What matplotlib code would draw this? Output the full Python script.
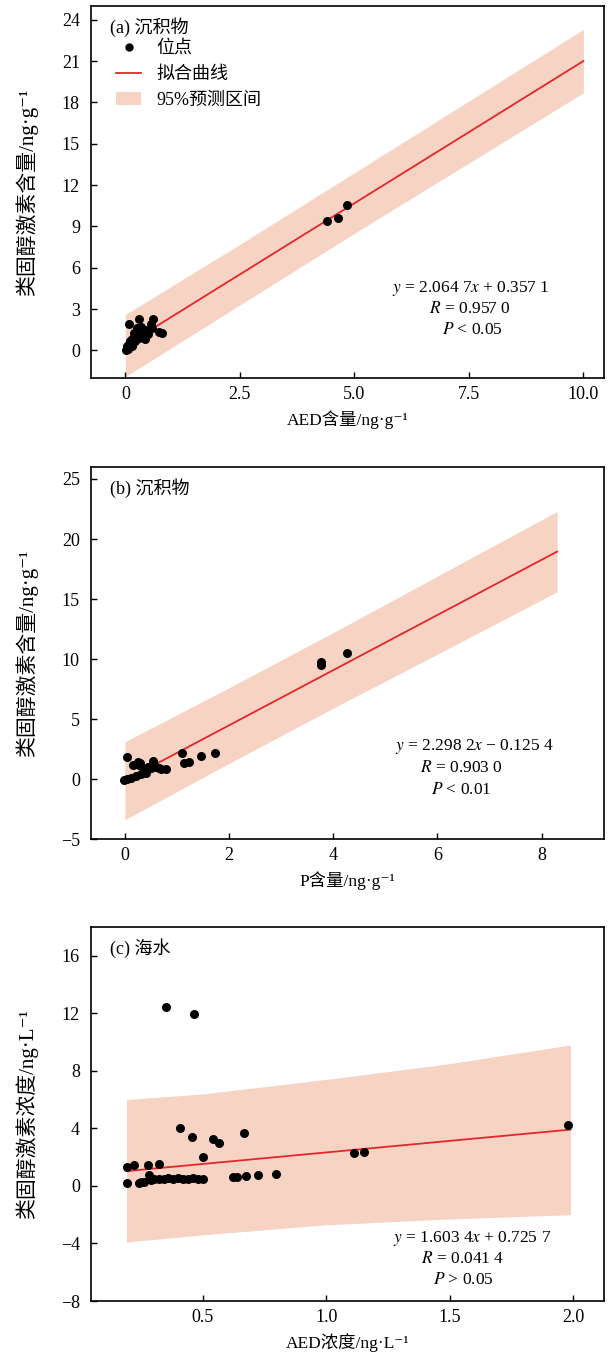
import matplotlib
matplotlib.use('Agg')
import matplotlib.pyplot as plt
from matplotlib.patches import Patch
from matplotlib.lines import Line2D
import numpy as np

FAM = ['Liberation Serif', 'Noto Sans CJK SC', 'DejaVu Sans']
plt.rcParams['font.family'] = FAM
plt.rcParams['mathtext.fontset'] = 'stix'
plt.rcParams['axes.unicode_minus'] = True

# ---------------- data ----------------
# (a) sediment: AED content vs steroid content
a_x = [0.02, 0.05, 0.04, 0.08, 0.10, 0.12, 0.15, 0.20, 0.22, 0.25, 0.28, 0.30, 0.33, 0.35,
       0.38, 0.40, 0.42, 0.45, 0.18, 0.09, 0.29, 0.60, 0.55, 0.58, 0.74, 0.80, 0.50, 0.15,
       0.25, 0.35, 4.41, 4.65, 4.84]
a_y = [0.00, 0.10, 0.30, 0.50, 0.70, 0.60, 0.80, 0.90, 0.70, 1.00, 1.10, 0.90, 1.20, 1.00,
       1.30, 1.10, 0.80, 1.50, 1.30, 1.95, 2.30, 2.30, 1.90, 1.60, 1.35, 1.25, 1.20, 0.30,
       1.60, 1.70, 9.42, 9.64, 10.58]
a_slope, a_intercept = 2.0647, 0.3571
a_band_x = [0.0, 2.5, 5.0, 7.5, 10.0]
a_band_hi = [2.6, 7.7, 12.9, 18.1, 23.3]
a_band_lo = [-1.9, 3.3, 8.5, 13.6, 18.7]

# (b) sediment: P content vs steroid content
b_x = [0.04, 0.15, 0.25, 0.29, 0.27, 0.37, 0.50, 0.55, 0.56, 0.69, 0.79, -0.01, 0.05, 0.115,
       0.21, 0.31, 0.40, 0.45, 0.35, 0.60, 0.65, 1.09, 1.14, 1.23, 1.46, 1.73, 3.76, 3.76, 4.26]
b_y = [1.86, 1.14, 1.40, 1.30, 1.20, 0.67, 0.94, 1.50, 1.20, 0.86, 0.86, -0.10, 0.00, 0.06,
       0.25, 0.39, 0.53, 1.00, 0.90, 1.00, 0.90, 2.20, 1.36, 1.44, 1.92, 2.19, 9.50, 9.75, 10.50]
b_slope, b_intercept = 2.2982, -0.1254
b_band_x = [0.0, 2.0, 4.0, 6.0, 8.3]
b_band_hi = [3.1, 7.6, 12.2, 16.9, 22.3]
b_band_lo = [-3.4, 1.3, 5.9, 10.4, 15.6]

# (c) seawater: AED concentration vs steroid concentration
c_x = [0.19, 0.22, 0.278, 0.32, 0.19, 0.24, 0.25, 0.28, 0.30, 0.32, 0.34, 0.36, 0.38, 0.40,
       0.42, 0.44, 0.46, 0.48, 0.50, 0.407, 0.454, 0.50, 0.542, 0.566, 0.667, 0.623, 0.636,
       0.674, 0.724, 0.796, 1.112, 1.153, 0.35, 0.463, 1.98, 0.26, 0.29]
c_y = [1.34, 1.44, 1.46, 1.55, 0.19, 0.23, 0.25, 0.76, 0.50, 0.50, 0.50, 0.52, 0.50, 0.55,
       0.50, 0.50, 0.52, 0.50, 0.50, 4.00, 3.43, 2.03, 3.24, 2.96, 3.70, 0.65, 0.65,
       0.69, 0.76, 0.83, 2.27, 2.34, 12.43, 11.94, 4.24, 0.30, 0.40]
c_slope, c_intercept = 1.6034, 0.7257
c_band_x = [0.19, 0.5, 1.0, 1.5, 1.99]
c_band_hi = [6.0, 6.4, 7.4, 8.5, 9.8]
c_band_lo = [-3.9, -3.4, -2.7, -2.3, -2.0]

panels = [
    dict(x=a_x, y=a_y, k=a_slope, b=a_intercept, bx=a_band_x, bh=a_band_hi, bl=a_band_lo,
         xlim=(-0.75, 10.45), ylim=(-2, 25), xt=[0, 2.5, 5, 7.5, 10], xtl=['0', '2.5', '5.0', '7.5', '10.0'],
         yt=[0, 3, 6, 9, 12, 15, 18, 21, 24],
         xlabel='AED含量/ng·g⁻¹', ylabel='类固醇激素含量/ng·g⁻¹', title='(a) 沉积物',
         eq=[r'$y$ = 2.064 7$x$ + 0.357 1', r'$R$ = 0.957 0', r'$P$ < 0.05'],
         box=(91, 6, 604, 378), eqx=[471, 470, 472], eqy=[288, 309, 330], fitx=(0.0, 10.0)),
    dict(x=b_x, y=b_y, k=b_slope, b=b_intercept, bx=b_band_x, bh=b_band_hi, bl=b_band_lo,
         xlim=(-0.65, 9.2), ylim=(-5, 26), xt=[0, 2, 4, 6, 8], xtl=['0', '2', '4', '6', '8'],
         yt=[-5, 0, 5, 10, 15, 20, 25],
         xlabel='P含量/ng·g⁻¹', ylabel='类固醇激素含量/ng·g⁻¹', title='(b) 沉积物',
         eq=[r'$y$ = 2.298 2$x$ − 0.125 4', r'$R$ = 0.903 0', r'$P$ < 0.01'],
         box=(91, 467, 604, 839), eqx=[474, 461, 461], eqy=[746, 768, 790], fitx=(0.0, 8.3)),
    dict(x=c_x, y=c_y, k=c_slope, b=c_intercept, bx=c_band_x, bh=c_band_hi, bl=c_band_lo,
         xlim=(0.046, 2.126), ylim=(-8, 18), xt=[0.5, 1.0, 1.5, 2.0], xtl=['0.5', '1.0', '1.5', '2.0'],
         yt=[-8, -4, 0, 4, 8, 12, 16],
         xlabel='AED浓度/ng·L⁻¹', ylabel='类固醇激素浓度/ng·L⁻¹', title='(c) 海水',
         eq=[r'$y$ = 1.603 4$x$ + 0.725 7', r'$R$ = 0.041 4', r'$P$ > 0.05'],
         box=(91, 927, 604, 1301), eqx=[472, 463, 463], eqy=[1238, 1259, 1280], fitx=(0.19, 1.99)),
]

W, H = 613, 1357
fig = plt.figure(figsize=(W / 100, H / 100), dpi=100)

BAND = '#f7d3c4'
RED = '#e3262b'

def fx(px):
    return px / W

def fy(py):
    return 1 - py / H

for i, p in enumerate(panels):
    l, t, r, bt = p['box']
    ax = fig.add_axes([l / W, 1 - bt / H, (r - l) / W, (bt - t) / H])
    ax.fill_between(p['bx'], p['bl'], p['bh'], color=BAND, lw=0, zorder=1)
    fxs = np.array(p['fitx'])
    ax.plot(fxs, p['k'] * fxs + p['b'], color=RED, lw=1.3, zorder=2)
    ax.scatter(p['x'], p['y'], s=42, color='black', zorder=3, linewidths=0)
    ax.set_xlim(*p['xlim'])
    ax.set_ylim(*p['ylim'])
    ax.set_xticks(p['xt'])
    ax.set_xticklabels(p['xtl'])
    ax.set_yticks(p['yt'])
    ax.tick_params(direction='in', length=4, width=1, labelsize=13, top=False, right=False)
    ax.tick_params(axis='y', pad=8)
    ax.tick_params(axis='x', pad=6)
    for s in ax.spines.values():
        s.set_linewidth(1.2)
    ax.set_xlabel(p['xlabel'], fontsize=12.5, va='center', family=FAM)
    ax.xaxis.set_label_coords(0.5, -(42) / (bt - t))
    ax.set_ylabel(p['ylabel'], fontsize=15, va='center', family=FAM)
    ax.yaxis.set_label_coords((27 - l) / (r - l), 0.5)
    fig.text(fx(110), fy(t + 21), p['title'], fontsize=13, va='center', ha='left', family=FAM)
    for line, xx, yy in zip(p['eq'], p['eqx'], p['eqy']):
        fig.text(fx(xx), fy(yy), line, fontsize=12.5, ha='center', va='center')
    if i == 0:
        handles = [
            Line2D([], [], ls='none', marker='o', color='black', markersize=5),
            Line2D([], [], color=RED, lw=1.3),
            Patch(facecolor=BAND, edgecolor='none'),
        ]
        ax.legend(handles, ['位点', '拟合曲线', '95%预测区间'], loc='upper left',
                  bbox_to_anchor=(fx(116), fy(40)), bbox_transform=fig.transFigure,
                  frameon=False, fontsize=13, handlelength=1.4, handletextpad=0.85,
                  labelspacing=0.5, borderpad=0, borderaxespad=0)

fig.savefig('out.png', dpi=100)
